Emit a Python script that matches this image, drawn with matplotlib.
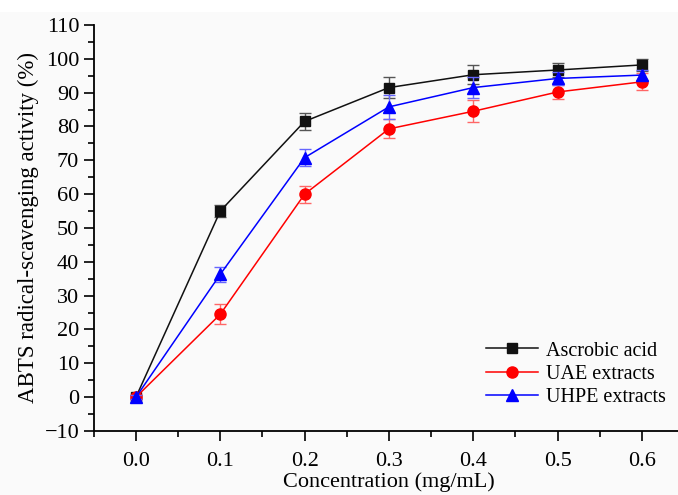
import matplotlib
matplotlib.use("Agg")
import matplotlib.pyplot as plt
from matplotlib.patches import Rectangle
from matplotlib.ticker import MultipleLocator

# concentration (mg/mL)
conc = [0.0, 0.1, 0.2, 0.3, 0.4, 0.5, 0.6]

ascorbic = [0.0, 55.0, 81.5, 91.5, 95.3, 96.7, 98.2]
ascorbic_err = [0.5, 1.8, 2.5, 3.2, 2.8, 2.0, 1.8]
uae = [0.0, 24.5, 60.0, 79.3, 84.5, 90.2, 93.2]
uae_err = [0.5, 3.0, 2.5, 2.8, 3.2, 2.0, 2.5]
uhpe = [0.0, 36.3, 70.8, 85.8, 91.5, 94.2, 95.2]
uhpe_err = [0.5, 2.2, 2.5, 3.5, 3.0, 2.0, 1.5]

plt.rcParams["font.family"] = ["Liberation Serif", "DejaVu Serif"]

bg = "#fafafa"
fig = plt.figure(figsize=(6.78, 4.95), dpi=100, facecolor=bg)
fig.patches.append(Rectangle((0, 0.975), 1, 0.03, transform=fig.transFigure,
                             facecolor="white", edgecolor="none", zorder=-1))
ax = fig.add_axes([0.1383, 0.1293, 0.8707, 0.8202])
ax.set_facecolor(bg)

series = [
    (ascorbic, ascorbic_err, "#111111", "#555555", "s", 7, "Ascrobic acid"),
    (uae, uae_err, "#ff0000", "#ff6666", "o", 8, "UAE extracts"),
    (uhpe, uhpe_err, "#0000ff", "#6666ff", "^", 8, "UHPE extracts"),
]
handles = []
for vals, err, col, ecol, mk, ms, lab in series:
    ax.errorbar(conc, vals, yerr=err, fmt="none", ecolor=ecol, elinewidth=1,
                capsize=4, capthick=1)
    ln, = ax.plot(conc, vals, color=col, lw=1.1, marker=mk, ms=ms,
                  mfc=col, mec=col, label=lab)
    handles.append(ln)

ax.set_xlim(-0.05, 0.65)
ax.set_ylim(-10, 110)
ax.xaxis.set_major_locator(MultipleLocator(0.1))
ax.xaxis.set_minor_locator(MultipleLocator(0.05))
ax.yaxis.set_major_locator(MultipleLocator(10))
ax.yaxis.set_minor_locator(MultipleLocator(5))
ax.xaxis.set_major_formatter(plt.FuncFormatter(lambda v, p: f"{v:.1f}"))
ax.tick_params(which="major", direction="out", length=7, width=1.2, labelsize=16)
ax.tick_params(axis="x", which="major", pad=8)
ax.tick_params(which="minor", direction="out", length=4, width=1.2)
for s in ("top", "right"):
    ax.spines[s].set_visible(False)
for s in ("left", "bottom"):
    ax.spines[s].set_linewidth(1.3)

ax.set_xlabel("Concentration (mg/mL)", fontsize=16, labelpad=1)
ax.set_ylabel("ABTS radical-scavenging activity (%)", fontsize=16.5, labelpad=4)

ax.legend(handles=handles, loc="lower right", bbox_to_anchor=(1.0, 0.015),
          frameon=False, fontsize=14.5, handlelength=2.6, handletextpad=0.4,
          labelspacing=0.2)

fig.savefig("out.png", dpi=100, facecolor=bg)
